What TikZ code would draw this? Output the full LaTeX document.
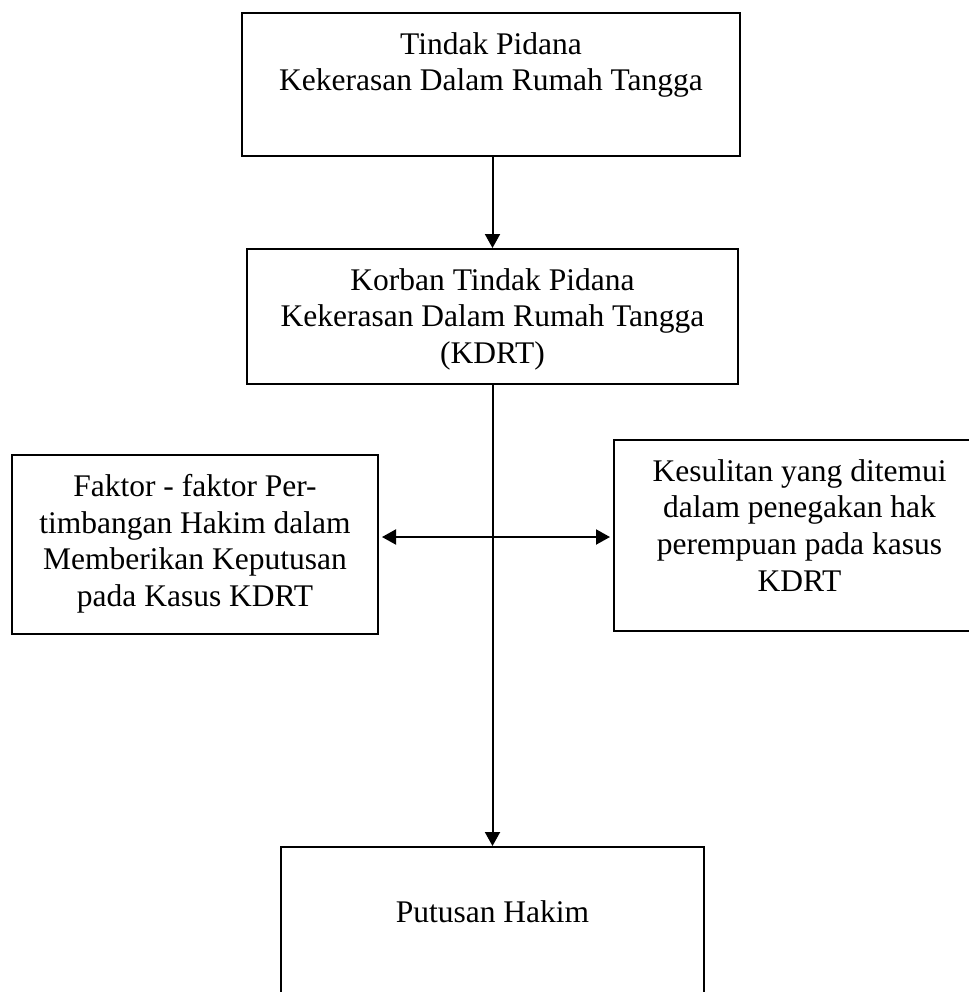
\documentclass[tikz,border=0pt]{standalone}
\usepackage{fontspec}
\setmainfont{Liberation Serif}
\usetikzlibrary{arrows.meta}
\def\isi#1#2#3{\parbox[t][#2][t]{#1}{\centering\vspace*{9.7pt}#3}}

\begin{document}
\begin{tikzpicture}[x=0.5pt,y=-0.5pt,
  kotak/.style={draw,line width=1pt,inner sep=0pt,anchor=north west,
    font=\fontsize{15.75pt}{18.3pt}\selectfont},
  panah/.style={line width=1pt,-{Triangle[length=7pt,width=7.5pt]}},
  panahdua/.style={line width=1pt,{Triangle[length=7pt,width=7.5pt]}-{Triangle[length=7pt,width=7.5pt]},
    shorten <=1.5pt,shorten >=1.5pt}]
\useasboundingbox (0,0) rectangle (969,992);

\node[kotak] (atas) at (241,12) {\isi{249pt}{71.5pt}{Tindak Pidana\\Kekerasan Dalam Rumah Tangga}};
\node[kotak] (korban) at (246,248) {\isi{245.5pt}{67.5pt}{Korban Tindak Pidana\\Kekerasan Dalam Rumah Tangga\\(KDRT)}};
\node[kotak] (faktor) at (11,454) {\isi{183pt}{89.5pt}{Faktor - faktor Per-\\timbangan Hakim dalam\\Memberikan Keputusan\\pada Kasus KDRT}};
\node[kotak] (kesulitan) at (613,439) {\isi{185.5pt}{95.5pt}{Kesulitan yang ditemui\\dalam penegakan hak\\perempuan pada kasus\\KDRT}};
\node[kotak] (putusan) at (280,846) {\isi{211.5pt}{80pt}{\vspace*{17pt}Putusan Hakim}};

\coordinate (simpang) at (491,537);

\draw[panah] (korban.north |- atas.south) -- (korban.north);
\draw[panah] (korban.south) -- (korban.south |- putusan.north);
\draw[panahdua] (faktor.east |- simpang) -- (kesulitan.west |- simpang);
\end{tikzpicture}
\end{document}
